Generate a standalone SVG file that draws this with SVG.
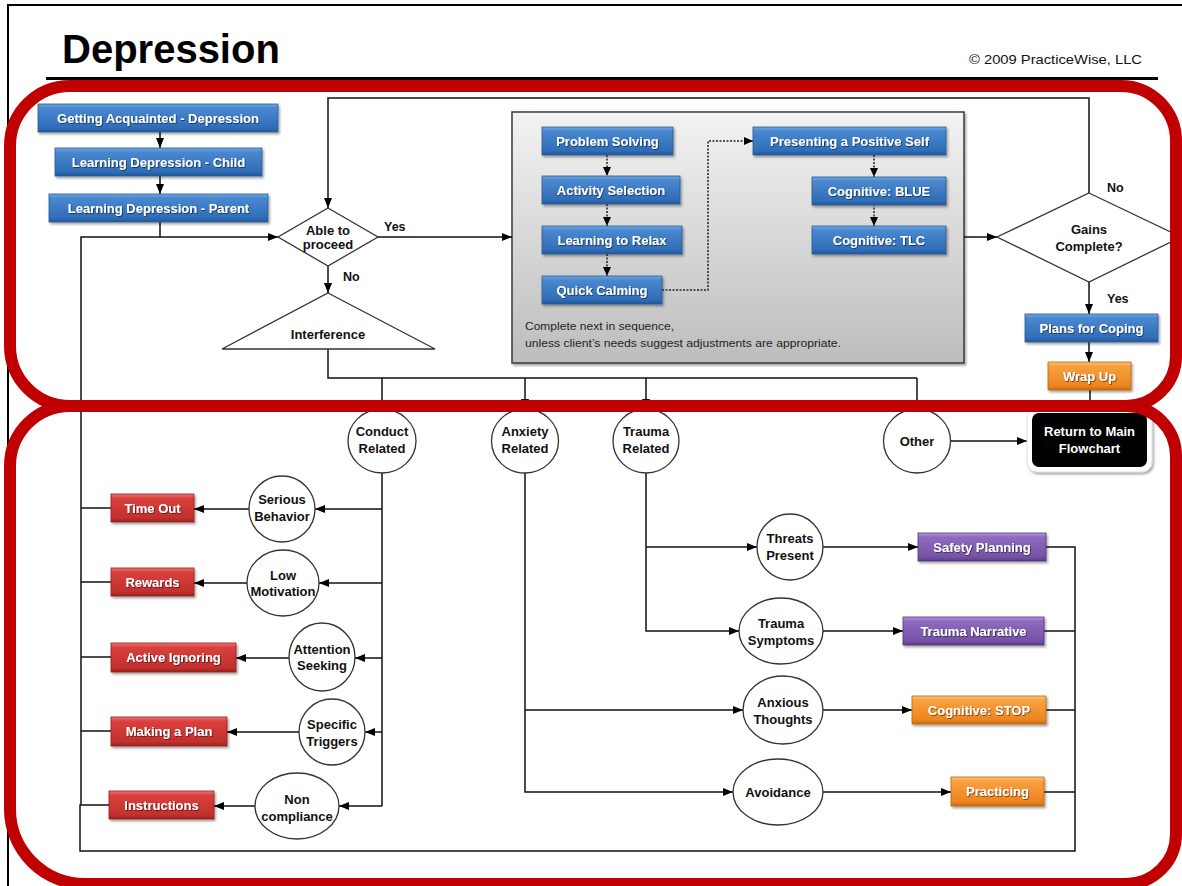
<svg xmlns="http://www.w3.org/2000/svg" width="1182" height="886" viewBox="0 0 1182 886">
  <style>
    .ln { fill: none; stroke: #111; stroke-width: 1.5; }
    .dot { fill: none; stroke: #222; stroke-width: 1.5; stroke-dasharray: 2 1.5; }
    .box-t { font-family: "Liberation Sans", Arial, sans-serif; font-size: 13px; font-weight: bold; fill: #fff; text-anchor: middle; }
    .lbl { font-family: "Liberation Sans", Arial, sans-serif; font-size: 13px; font-weight: bold; fill: #111; text-anchor: middle; }
    .yn { font-family: "Liberation Sans", Arial, sans-serif; font-size: 12.5px; font-weight: bold; fill: #111; }
    .circ { fill: #fff; stroke: #333; stroke-width: 1.3; }
    .note { font-family: "Liberation Sans", Arial, sans-serif; font-size: 11px; fill: #1f1f1f; }
    .ring { fill: none; stroke: #C00000; stroke-width: 12; }
  </style>
  <defs>
    <linearGradient id="gBlue" x1="0" y1="0" x2="0" y2="1">
      <stop offset="0" stop-color="#6FA8E2"/>
      <stop offset="0.15" stop-color="#4A88CF"/>
      <stop offset="0.85" stop-color="#2F6DB8"/>
      <stop offset="1" stop-color="#24589A"/>
    </linearGradient>
    <linearGradient id="gRed" x1="0" y1="0" x2="0" y2="1">
      <stop offset="0" stop-color="#EC7A78"/>
      <stop offset="0.15" stop-color="#D9403D"/>
      <stop offset="0.85" stop-color="#C2302E"/>
      <stop offset="1" stop-color="#9C2220"/>
    </linearGradient>
    <linearGradient id="gOrange" x1="0" y1="0" x2="0" y2="1">
      <stop offset="0" stop-color="#FFC37A"/>
      <stop offset="0.15" stop-color="#F9A040"/>
      <stop offset="0.85" stop-color="#EC8520"/>
      <stop offset="1" stop-color="#C96A10"/>
    </linearGradient>
    <linearGradient id="gPurple" x1="0" y1="0" x2="0" y2="1">
      <stop offset="0" stop-color="#B696DE"/>
      <stop offset="0.15" stop-color="#8F6BBF"/>
      <stop offset="0.85" stop-color="#7552A6"/>
      <stop offset="1" stop-color="#5B3D86"/>
    </linearGradient>
    <linearGradient id="gGray" x1="0" y1="0" x2="0" y2="1">
      <stop offset="0" stop-color="#F3F3F3"/>
      <stop offset="1" stop-color="#BDBDBD"/>
    </linearGradient>
    <filter id="sh" x="-10%" y="-20%" width="125%" height="160%">
      <feDropShadow dx="1.5" dy="2" stdDeviation="1.3" flood-color="#000" flood-opacity="0.35"/>
    </filter>
    <filter id="ts" x="-5%" y="-20%" width="115%" height="160%">
      <feDropShadow dx="0.8" dy="0.8" stdDeviation="0.5" flood-color="#000" flood-opacity="0.6"/>
    </filter>
    <marker id="ah" markerWidth="10" markerHeight="8" refX="10" refY="4" orient="auto" markerUnits="userSpaceOnUse">
      <path d="M0,0 L10,4 L0,8 z" fill="#000"/>
    </marker>
    <marker id="ahs" markerWidth="9" markerHeight="8" refX="9" refY="4" orient="auto" markerUnits="userSpaceOnUse">
      <path d="M0,0 L9,4 L0,8 z" fill="#000"/>
    </marker>
  </defs>

  <rect width="1182" height="886" fill="#fff"/>

  <!-- page frame and header -->
  <g id="header">
    <path d="M8,886 V5 H1182" fill="none" stroke="#000" stroke-width="2"/>
    <text x="62" y="63" font-family="Liberation Sans, Arial, sans-serif" font-size="40" font-weight="bold" fill="#000">Depression</text>
    <text x="969" y="64" font-family="Liberation Sans, Arial, sans-serif" font-size="13" fill="#111" textLength="173" lengthAdjust="spacingAndGlyphs">© 2009 PracticeWise, LLC</text>
    <line x1="46" y1="78.5" x2="1158" y2="78.5" stroke="#000" stroke-width="3"/>
  </g>

  <!-- core module sequence container (behind its own connectors) -->
  <g id="module-sequence">
    <rect x="512" y="112" width="452" height="251" fill="url(#gGray)" stroke="#3A3A3A" stroke-width="1.5" filter="url(#sh)"/>
    <text class="note" x="525" y="330" textLength="149" lengthAdjust="spacingAndGlyphs">Complete next in sequence,</text>
    <text class="note" x="525" y="347" textLength="316" lengthAdjust="spacingAndGlyphs">unless client’s needs suggest adjustments are appropriate.</text>
  </g>

  <!-- connectors -->
  <g id="connectors">
    <path class="ln" d="M160,132 V148" marker-end="url(#ah)"/>
    <path class="ln" d="M160,176 V194" marker-end="url(#ah)"/>
    <path class="ln" d="M160,222 V237"/>
    <path class="ln" d="M81,805 V237 H278" marker-end="url(#ah)"/>
    <path class="ln" d="M1089,193 V98 H328 V208" marker-end="url(#ah)"/>
    <path class="ln" d="M378,237 H512" marker-end="url(#ah)"/>
    <path class="ln" d="M328,266 V293" marker-end="url(#ah)"/>
    <path class="ln" d="M964,237 H997" marker-end="url(#ah)"/>
    <path class="ln" d="M1089,282 V314" marker-end="url(#ah)"/>
    <path class="ln" d="M1089,342 V362" marker-end="url(#ah)"/>
    <path class="ln" d="M1090,390 V410"/>

    <!-- sequence inside the module box -->
    <path class="dot" d="M607,155 V176" marker-end="url(#ahs)"/>
    <path class="dot" d="M607,204 V226" marker-end="url(#ahs)"/>
    <path class="dot" d="M607,254 V276" marker-end="url(#ahs)"/>
    <path class="dot" d="M662,290 H708 V141 H753" marker-end="url(#ahs)"/>
    <path class="dot" d="M874,155 V177" marker-end="url(#ahs)"/>
    <path class="dot" d="M874,204 V226" marker-end="url(#ahs)"/>

    <!-- interference fan-out -->
    <path class="ln" d="M328,349 V378 H917"/>
    <path class="ln" d="M382,378 V410" marker-end="url(#ah)"/>
    <path class="ln" d="M525,378 V409" marker-end="url(#ah)"/>
    <path class="ln" d="M646,378 V409" marker-end="url(#ah)"/>
    <path class="ln" d="M917,378 V410" marker-end="url(#ah)"/>
    <path class="ln" d="M950,441 H1027" marker-end="url(#ah)"/>

    <!-- conduct branch -->
    <path class="ln" d="M382,473 V806"/>
    <path class="ln" d="M382,509 H315" marker-end="url(#ah)"/>
    <path class="ln" d="M382,583 H319" marker-end="url(#ah)"/>
    <path class="ln" d="M382,658 H355" marker-end="url(#ah)"/>
    <path class="ln" d="M382,732 H365" marker-end="url(#ah)"/>
    <path class="ln" d="M382,806 H339" marker-end="url(#ah)"/>
    <path class="ln" d="M249,509 H194" marker-end="url(#ah)"/>
    <path class="ln" d="M247,583 H194" marker-end="url(#ah)"/>
    <path class="ln" d="M289,658 H236" marker-end="url(#ah)"/>
    <path class="ln" d="M300,732 H227" marker-end="url(#ah)"/>
    <path class="ln" d="M255,806 H214" marker-end="url(#ah)"/>
    <path class="ln" d="M111,508 H81"/>
    <path class="ln" d="M111,582 H81"/>
    <path class="ln" d="M111,657 H81"/>
    <path class="ln" d="M111,731 H81"/>
    <path class="ln" d="M109,805 H80 V851 H1075 V547 H1046"/>

    <!-- trauma branch -->
    <path class="ln" d="M646,473 V631 H739" marker-end="url(#ah)"/>
    <path class="ln" d="M646,547 H757" marker-end="url(#ah)"/>
    <path class="ln" d="M823,547 H918" marker-end="url(#ah)"/>
    <path class="ln" d="M823,631 H903" marker-end="url(#ah)"/>
    <path class="ln" d="M1044,631 H1075"/>

    <!-- anxiety branch -->
    <path class="ln" d="M525,473 V792 H733" marker-end="url(#ah)"/>
    <path class="ln" d="M525,710 H743" marker-end="url(#ah)"/>
    <path class="ln" d="M823,710 H912" marker-end="url(#ah)"/>
    <path class="ln" d="M823,792 H951" marker-end="url(#ah)"/>
    <path class="ln" d="M1046,710 H1075"/>
    <path class="ln" d="M1044,792 H1075"/>
  </g>

  <!-- introductory modules -->
  <g id="getting-acquainted">
    <rect x="38" y="104" width="240" height="28" fill="url(#gBlue)" stroke="#2A5A90" stroke-width="0.8" filter="url(#sh)"/>
    <text class="box-t" x="158" y="123" filter="url(#ts)">Getting Acquainted - Depression</text>
  </g>
  <g id="learning-child">
    <rect x="55" y="148" width="207" height="28" fill="url(#gBlue)" stroke="#2A5A90" stroke-width="0.8" filter="url(#sh)"/>
    <text class="box-t" x="158.5" y="167" filter="url(#ts)">Learning Depression - Child</text>
  </g>
  <g id="learning-parent">
    <rect x="49" y="194" width="219" height="28" fill="url(#gBlue)" stroke="#2A5A90" stroke-width="0.8" filter="url(#sh)"/>
    <text class="box-t" x="158.5" y="213" filter="url(#ts)">Learning Depression - Parent</text>
  </g>

  <!-- decision: able to proceed -->
  <g id="able-to-proceed">
    <polygon points="328,208 378,237 328,266 278,237" fill="#fff" stroke="#333" stroke-width="1.3"/>
    <text class="lbl" x="328" y="235">Able to</text>
    <text class="lbl" x="328" y="249">proceed</text>
    <text class="yn" x="384" y="231">Yes</text>
    <text class="yn" x="343" y="281">No</text>
  </g>

  <!-- interference -->
  <g id="interference">
    <polygon points="328,293 435,349 222,349" fill="#fff" stroke="#333" stroke-width="1.3"/>
    <text class="lbl" x="328" y="339" font-size="13.5">Interference</text>
  </g>

  <!-- core modules -->
  <g id="problem-solving">
    <rect x="542" y="127" width="131" height="28" fill="url(#gBlue)" stroke="#2A5A90" stroke-width="0.8" filter="url(#sh)"/>
    <text class="box-t" x="607.5" y="146" filter="url(#ts)">Problem Solving</text>
  </g>
  <g id="activity-selection">
    <rect x="542" y="176" width="138" height="28" fill="url(#gBlue)" stroke="#2A5A90" stroke-width="0.8" filter="url(#sh)"/>
    <text class="box-t" x="611" y="195" filter="url(#ts)">Activity Selection</text>
  </g>
  <g id="learning-to-relax">
    <rect x="542" y="226" width="140" height="28" fill="url(#gBlue)" stroke="#2A5A90" stroke-width="0.8" filter="url(#sh)"/>
    <text class="box-t" x="612" y="245" filter="url(#ts)">Learning to Relax</text>
  </g>
  <g id="quick-calming">
    <rect x="542" y="276" width="120" height="28" fill="url(#gBlue)" stroke="#2A5A90" stroke-width="0.8" filter="url(#sh)"/>
    <text class="box-t" x="602" y="295" filter="url(#ts)">Quick Calming</text>
  </g>
  <g id="positive-self">
    <rect x="753" y="127" width="193" height="28" fill="url(#gBlue)" stroke="#2A5A90" stroke-width="0.8" filter="url(#sh)"/>
    <text class="box-t" x="849.5" y="146" filter="url(#ts)">Presenting a Positive Self</text>
  </g>
  <g id="cognitive-blue">
    <rect x="812" y="177" width="134" height="28" fill="url(#gBlue)" stroke="#2A5A90" stroke-width="0.8" filter="url(#sh)"/>
    <text class="box-t" x="879" y="196" filter="url(#ts)">Cognitive: BLUE</text>
  </g>
  <g id="cognitive-tlc">
    <rect x="812" y="226" width="134" height="28" fill="url(#gBlue)" stroke="#2A5A90" stroke-width="0.8" filter="url(#sh)"/>
    <text class="box-t" x="879" y="245" filter="url(#ts)">Cognitive: TLC</text>
  </g>

  <!-- decision: gains complete -->
  <g id="gains-complete">
    <polygon points="1089,193 1181,237 1089,282 997,237" fill="#fff" stroke="#333" stroke-width="1.3"/>
    <text class="lbl" x="1089" y="234">Gains</text>
    <text class="lbl" x="1089" y="251">Complete?</text>
    <text class="yn" x="1107" y="192">No</text>
    <text class="yn" x="1107" y="303">Yes</text>
  </g>
  <g id="plans-for-coping">
    <rect x="1025" y="314" width="133" height="28" fill="url(#gBlue)" stroke="#2A5A90" stroke-width="0.8" filter="url(#sh)"/>
    <text class="box-t" x="1091.5" y="333" filter="url(#ts)">Plans for Coping</text>
  </g>
  <g id="wrap-up">
    <rect x="1048" y="362" width="83" height="28" fill="url(#gOrange)" stroke="#B86410" stroke-width="0.8" filter="url(#sh)"/>
    <text class="box-t" x="1089.5" y="381" filter="url(#ts)">Wrap Up</text>
  </g>

  <!-- interference categories -->
  <g id="conduct-related">
    <ellipse class="circ" cx="382" cy="441" rx="34" ry="32"/>
    <text class="lbl" x="382" y="436">Conduct</text>
    <text class="lbl" x="382" y="453">Related</text>
  </g>
  <g id="anxiety-related">
    <ellipse class="circ" cx="525" cy="441" rx="33.5" ry="32"/>
    <text class="lbl" x="525" y="436">Anxiety</text>
    <text class="lbl" x="525" y="453">Related</text>
  </g>
  <g id="trauma-related">
    <ellipse class="circ" cx="646" cy="441" rx="33" ry="32"/>
    <text class="lbl" x="646" y="436">Trauma</text>
    <text class="lbl" x="646" y="453">Related</text>
  </g>
  <g id="other">
    <ellipse class="circ" cx="917" cy="441" rx="33.5" ry="32"/>
    <text class="lbl" x="917" y="446">Other</text>
  </g>
  <g id="return-main">
    <rect x="1027" y="408" width="125" height="64" rx="10" fill="#fff" stroke="#d8d8d8" stroke-width="0.8" filter="url(#sh)"/>
    <rect x="1032" y="413" width="115" height="54" rx="7" fill="#000"/>
    <text class="box-t" x="1089.5" y="436" font-size="13.5">Return to Main</text>
    <text class="box-t" x="1089.5" y="453" font-size="13.5">Flowchart</text>
  </g>

  <!-- conduct problems -->
  <g id="serious-behavior">
    <ellipse class="circ" cx="282" cy="509" rx="33" ry="33"/>
    <text class="lbl" x="282" y="504">Serious</text>
    <text class="lbl" x="282" y="521">Behavior</text>
  </g>
  <g id="time-out">
    <rect x="111" y="494" width="83" height="28" fill="url(#gRed)" stroke="#8E1F1D" stroke-width="0.8" filter="url(#sh)"/>
    <text class="box-t" x="152.5" y="513" filter="url(#ts)">Time Out</text>
  </g>
  <g id="low-motivation">
    <ellipse class="circ" cx="283" cy="583" rx="36" ry="33"/>
    <text class="lbl" x="283" y="580">Low</text>
    <text class="lbl" x="283" y="596">Motivation</text>
  </g>
  <g id="rewards">
    <rect x="111" y="568" width="83" height="28" fill="url(#gRed)" stroke="#8E1F1D" stroke-width="0.8" filter="url(#sh)"/>
    <text class="box-t" x="152.5" y="587" filter="url(#ts)">Rewards</text>
  </g>
  <g id="attention-seeking">
    <ellipse class="circ" cx="322" cy="657" rx="33" ry="34"/>
    <text class="lbl" x="322" y="654">Attention</text>
    <text class="lbl" x="322" y="670">Seeking</text>
  </g>
  <g id="active-ignoring">
    <rect x="111" y="643" width="125" height="29" fill="url(#gRed)" stroke="#8E1F1D" stroke-width="0.8" filter="url(#sh)"/>
    <text class="box-t" x="173.5" y="662" filter="url(#ts)">Active Ignoring</text>
  </g>
  <g id="specific-triggers">
    <ellipse class="circ" cx="332" cy="732" rx="33" ry="33"/>
    <text class="lbl" x="332" y="729">Specific</text>
    <text class="lbl" x="332" y="746">Triggers</text>
  </g>
  <g id="making-a-plan">
    <rect x="111" y="717" width="116" height="29" fill="url(#gRed)" stroke="#8E1F1D" stroke-width="0.8" filter="url(#sh)"/>
    <text class="box-t" x="169" y="736" filter="url(#ts)">Making a Plan</text>
  </g>
  <g id="non-compliance">
    <ellipse class="circ" cx="297" cy="806" rx="42" ry="33"/>
    <text class="lbl" x="297" y="804">Non</text>
    <text class="lbl" x="297" y="821">compliance</text>
  </g>
  <g id="instructions">
    <rect x="109" y="791" width="105" height="28" fill="url(#gRed)" stroke="#8E1F1D" stroke-width="0.8" filter="url(#sh)"/>
    <text class="box-t" x="161.5" y="810" filter="url(#ts)">Instructions</text>
  </g>

  <!-- trauma problems -->
  <g id="threats-present">
    <ellipse class="circ" cx="790" cy="547" rx="33" ry="33"/>
    <text class="lbl" x="790" y="543">Threats</text>
    <text class="lbl" x="790" y="560">Present</text>
  </g>
  <g id="safety-planning">
    <rect x="918" y="533" width="128" height="28" fill="url(#gPurple)" stroke="#4E3474" stroke-width="0.8" filter="url(#sh)"/>
    <text class="box-t" x="982" y="552" filter="url(#ts)">Safety Planning</text>
  </g>
  <g id="trauma-symptoms">
    <ellipse class="circ" cx="781" cy="631" rx="42" ry="33"/>
    <text class="lbl" x="781" y="628">Trauma</text>
    <text class="lbl" x="781" y="645">Symptoms</text>
  </g>
  <g id="trauma-narrative">
    <rect x="903" y="617" width="141" height="28" fill="url(#gPurple)" stroke="#4E3474" stroke-width="0.8" filter="url(#sh)"/>
    <text class="box-t" x="973.5" y="636" filter="url(#ts)">Trauma Narrative</text>
  </g>

  <!-- anxiety problems -->
  <g id="anxious-thoughts">
    <ellipse class="circ" cx="783" cy="710" rx="40" ry="34"/>
    <text class="lbl" x="783" y="707">Anxious</text>
    <text class="lbl" x="783" y="724">Thoughts</text>
  </g>
  <g id="cognitive-stop">
    <rect x="912" y="696" width="134" height="28" fill="url(#gOrange)" stroke="#B86410" stroke-width="0.8" filter="url(#sh)"/>
    <text class="box-t" x="979" y="715" filter="url(#ts)">Cognitive: STOP</text>
  </g>
  <g id="avoidance">
    <ellipse class="circ" cx="778" cy="792" rx="45" ry="33"/>
    <text class="lbl" x="778" y="797">Avoidance</text>
  </g>
  <g id="practicing">
    <rect x="951" y="777" width="93" height="29" fill="url(#gOrange)" stroke="#B86410" stroke-width="0.8" filter="url(#sh)"/>
    <text class="box-t" x="997.5" y="796" filter="url(#ts)">Practicing</text>
  </g>

  <!-- red section outlines -->
  <g id="sections">
    <path class="ring" d="M70,86 H1121 A55,55 0 0 1 1176,141 V356 A50,50 0 0 1 1126,406 H70 A60,60 0 0 1 10,346 V146 A60,60 0 0 1 70,86 Z"/>
    <path class="ring" d="M70,406 H1126 A50,50 0 0 1 1176,456 V834 A50,50 0 0 1 1126,884 H85 A75,75 0 0 1 10,809 V466 A60,60 0 0 1 70,406 Z"/>
  </g>
</svg>
